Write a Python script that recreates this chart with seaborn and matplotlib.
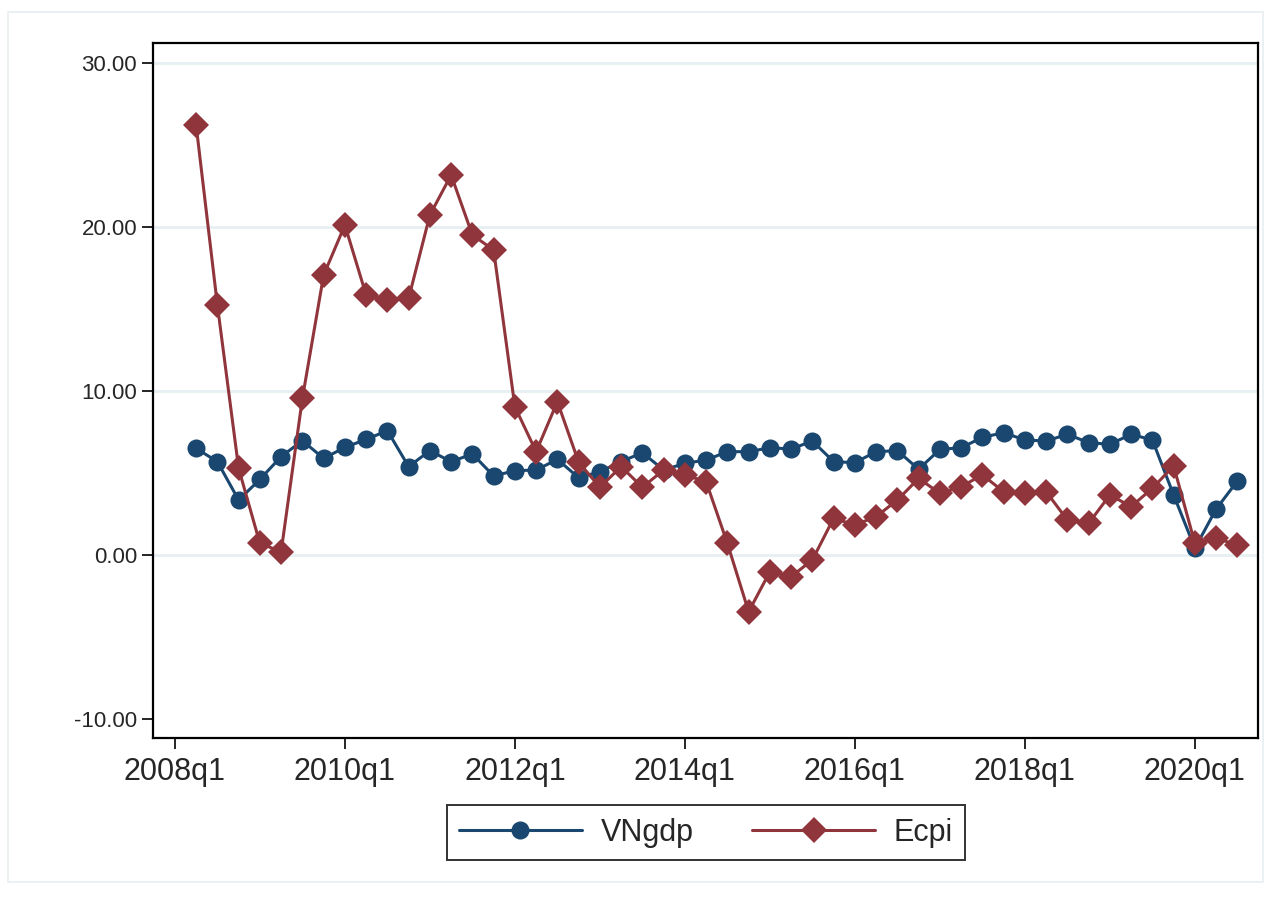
import matplotlib
matplotlib.use("Agg")
import matplotlib.pyplot as plt
import matplotlib.patches as mpatches
from matplotlib.lines import Line2D
import seaborn as sns
import pandas as pd

# ---- data (quarters 2008q2 .. 2020q3) ----
start_quarter = "2008Q2"
n_quarters = 50
vngdp = [6.50, 5.69, 3.35, 4.61, 6.00, 6.97, 5.89, 6.56, 7.05, 7.58,
         5.39, 6.36, 5.69, 6.16, 4.82, 5.14, 5.18, 5.83, 4.71, 5.08,
         5.69, 6.24, 5.18, 5.59, 5.79, 6.30, 6.30, 6.54, 6.46, 6.95,
         5.69, 5.63, 6.30, 6.36, 5.23, 6.44, 6.54, 7.17, 7.46, 7.01,
         6.95, 7.36, 6.85, 6.75, 7.36, 7.01, 3.66, 0.41, 2.80, 4.51]
ecpi = [26.20, 15.24, 5.28, 0.71, 0.20, 9.55, 17.07, 20.12, 15.85, 15.55,
        15.65, 20.73, 23.17, 19.51, 18.60, 9.04, 6.30, 9.35, 5.66, 4.13,
        5.39, 4.13, 5.18, 4.88, 4.47, 0.71, -3.46, -1.02, -1.32, -0.30,
        2.24, 1.83, 2.34, 3.35, 4.67, 3.76, 4.17, 4.88, 3.86, 3.76,
        3.86, 2.13, 1.93, 3.66, 2.95, 4.07, 5.43, 0.71, 1.02, 0.61]
series_names = ["VNgdp", "Ecpi"]
xtick_labels = ["2008q1", "2010q1", "2012q1", "2014q1", "2016q1", "2018q1", "2020q1"]
ytick_values = [-10, 0, 10, 20, 30]

periods = pd.period_range(start_quarter, periods=n_quarters, freq="Q")
qidx = [(p.year - 2008) * 4 + (p.quarter - 1) for p in periods]
df = pd.DataFrame({"t": qidx * 2,
                   "value": vngdp + ecpi,
                   "series": [series_names[0]] * n_quarters + [series_names[1]] * n_quarters})

xtick_pos = [(int(lbl[:4]) - 2008) * 4 + int(lbl[-1]) - 1 for lbl in xtick_labels]

sns.set_style("white")
plt.rcParams["font.family"] = ["Liberation Sans", "DejaVu Sans"]

fig = plt.figure(figsize=(12.65, 8.97), dpi=100)
ax = fig.add_axes([153 / 1265, 1 - 738 / 897, (1258 - 153) / 1265, (738 - 43) / 897])

colors = {"VNgdp": "#1a476f", "Ecpi": "#90353b"}
markers = {"VNgdp": "o", "Ecpi": "D"}

for y in [0, 10, 20, 30]:
    ax.axhline(y, color="#e6eff1", lw=2, zorder=0)

sns.lineplot(data=df, x="t", y="value", hue="series", style="series",
             palette=colors, markers=markers, dashes=False, ax=ax,
             linewidth=2.2, markersize=13, markeredgewidth=0, legend=False,
             zorder=3)

ax.set_xlim(-1.03, 50.97)
ax.set_ylim(-11.16, 31.22)
ax.set_xticks(xtick_pos)
ax.set_xticklabels(xtick_labels, fontsize=22)
ax.set_yticks(ytick_values)
ax.set_yticklabels([f"{v:.2f}" for v in ytick_values], fontsize=16)
ax.tick_params(axis="both", direction="out", length=8, width=1.2, color="black",
               bottom=True, left=True)
ax.tick_params(axis="x", pad=6)
ax.set_xlabel("")
ax.set_ylabel("")
for sp in ax.spines.values():
    sp.set_visible(True)
    sp.set_color("black")
    sp.set_linewidth(1.6)

handles = [Line2D([0], [0], color=colors[s], marker=markers[s], lw=2.2,
                  markersize=13, markeredgewidth=0) for s in series_names]
leg = fig.legend(handles, series_names, loc="center",
                 bbox_to_anchor=(706 / 1265, 1 - 832.5 / 897), ncol=2,
                 frameon=True, fancybox=False, handlelength=4.0,
                 columnspacing=1.93, handletextpad=0.62, borderpad=0.4,
                 prop={"size": 22})
leg.get_frame().set_edgecolor("black")
leg.get_frame().set_linewidth(1.4)

fig.patches.append(mpatches.Rectangle((8 / 1265, 1 - 882 / 897), (1263 - 8) / 1265,
                                      (882 - 12) / 897, transform=fig.transFigure,
                                      fill=False, edgecolor="#e8eff1", lw=1.2))

fig.savefig("out.png", dpi=100)
